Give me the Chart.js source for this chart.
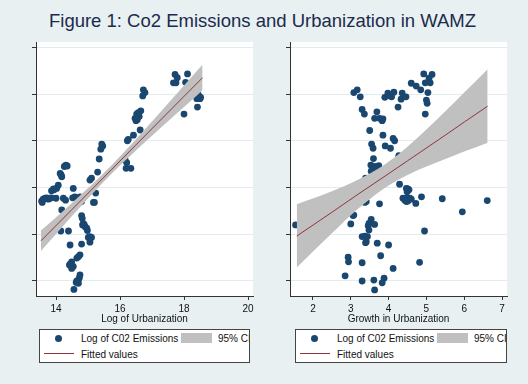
<!DOCTYPE html>
<html>
<head>
<meta charset="utf-8">
<script src="https://cdn.jsdelivr.net/npm/chart.js@4.4.0/dist/chart.umd.min.js"></script>
<style>
  body { margin:0; width:528px; height:384px; background:#e8f0f2; position:relative; overflow:hidden;
         font-family:"Liberation Sans", Arial, sans-serif; }
  #title { position:absolute; left:0; top:10px; width:525px; text-align:center; font-size:18.5px; line-height:22px; color:#1b2b4b; }
  canvas { position:absolute; top:0; }
  #cL { left:0; }
  #cR { left:270px; }
  .leg { position:absolute; top:329px; height:34px; box-sizing:border-box; border:1px solid #444; background:#fff; overflow:hidden;
         font-size:10px; line-height:12px; color:#111; z-index:2; }
  .leg span { position:absolute; white-space:nowrap; }
  .dot { width:7px; height:7px; border-radius:50%; background:#1a476f; left:15px; top:5px; }
  .sw { left:141px; top:3px; width:31px; height:10px; background:#c0c0c0; }
  .ln { left:4px; top:23px; width:30px; height:1px; background:#90353b; }
  .t1 { left:41px; top:3px; }
  .t2 { left:178px; top:3px; }
  .t3 { left:41px; top:19px; }
</style>
</head>
<body>
<div id="title">Figure 1: Co2 Emissions and Urbanization in WAMZ</div>
<canvas id="cL" width="270" height="384"></canvas>
<canvas id="cR" width="258" height="384"></canvas>
<div class="leg" style="left:39px;width:211px;">
  <span class="dot"></span><span class="t1">Log of C02 Emissions</span>
  <span class="sw"></span><span class="t2">95% CI</span>
  <span class="ln"></span><span class="t3">Fitted values</span>
</div>
<div class="leg" style="left:295px;width:212px;">
  <span class="dot"></span><span class="t1">Log of C02 Emissions</span>
  <span class="sw"></span><span class="t2">95% CI</span>
  <span class="ln"></span><span class="t3">Fitted values</span>
</div>
<script>
// left panel: log of urbanization vs log of CO2
var logUrb = [17.72,17.79,18.11,17.67,17.75,18.05,18.45,18.52,18.40,18.50,18.42,18.00,
  16.73,16.78,16.71,16.65,16.57,16.52,16.47,16.50,16.54,16.60,16.63,16.42,16.26,16.23,
  16.16,16.21,16.19,16.34,
  15.43,15.46,15.40,15.35,15.30,15.06,15.11,15.24,15.17,15.20,
  14.31,14.26,14.35,14.13,14.18,14.16,14.07,14.02,13.92,13.86,13.94,
  13.60,13.55,13.57,13.66,13.71,13.76,13.81,13.86,14.00,14.23,14.30,
  14.54,14.52,14.59,14.75,14.80,14.18,
  14.80,14.82,14.85,14.88,14.83,14.91,14.96,14.98,
  14.39,14.15,15.06,15.11,15.01,15.06,14.44,14.80,
  14.75,14.70,14.65,14.49,14.44,14.42,14.54,14.49,
  14.75,14.73,14.70,14.65,14.63,14.70,14.56];
var co2L = [10.42,10.35,10.43,10.24,10.24,10.25,9.98,9.93,9.90,9.90,9.72,9.57,
  10.09,10.03,9.96,9.64,9.60,9.57,9.48,9.43,9.45,9.52,9.23,9.12,9.03,9.00,
  8.59,8.53,8.41,8.41,
  8.93,8.89,8.82,8.61,8.33,8.16,8.20,7.88,7.68,7.68,
  8.48,8.45,8.46,8.30,8.23,8.27,8.05,7.98,7.97,7.93,7.95,
  7.75,7.71,7.68,7.77,7.78,7.75,7.77,7.78,7.77,7.77,7.73,
  7.98,7.78,7.80,7.80,7.70,7.52,
  7.40,7.34,7.23,7.21,7.20,7.16,7.13,7.08,
  7.07,7.07,6.95,6.93,6.93,6.83,6.77,6.79,
  6.56,6.52,6.49,6.41,6.36,6.34,6.31,6.27,
  6.13,6.07,6.02,6.00,5.97,5.95,5.82];

// right panel: growth in urbanization vs log of CO2
var urbGrowth = [4.93,5.15,5.07,4.97,5.10,4.60,4.73,4.85,5.04,5.00,5.02,4.97,
  3.90,3.98,4.04,4.08,4.14,4.25,4.33,4.36,4.46,
  3.08,3.17,3.25,3.30,3.36,
  3.69,3.63,3.76,3.83,3.85,3.50,3.85,3.91,4.05,4.12,4.16,3.55,3.59,3.60,4.27,
  3.53,3.63,3.74,3.75,3.54,3.65,3.39,
  4.29,4.47,4.51,4.54,4.49,4.38,4.43,4.47,4.56,4.51,4.47,4.60,4.72,4.87,5.42,6.61,5.95,4.95,4.82,
  3.37,3.41,3.76,
  3.06,3.08,3.54,3.48,3.46,3.63,3.48,3.00,1.54,
  3.30,3.37,3.44,3.41,3.39,3.70,4.00,3.79,2.93,2.94,3.30,4.12,2.85,3.30,3.61,3.88,3.83,3.63];
var co2R = [10.43,10.42,10.34,10.24,10.24,10.23,10.17,10.09,10.03,9.87,9.80,9.57,
  9.93,10.02,9.96,9.94,10.04,9.72,9.89,10.02,9.94,
  10.03,10.09,9.94,9.67,9.57,
  9.62,9.48,9.48,9.43,9.47,9.22,9.12,8.89,8.84,9.05,9.00,8.93,8.84,8.62,8.68,
  8.48,8.45,8.47,8.39,8.35,8.36,8.20,
  8.07,7.98,7.97,7.95,7.91,7.77,7.73,7.78,7.77,7.71,7.70,7.75,7.66,7.80,7.76,7.72,7.48,7.07,6.40,
  7.68,7.70,7.65,
  7.40,7.41,7.32,7.23,7.18,7.21,7.09,7.22,7.20,
  6.95,6.96,6.95,6.84,6.82,6.81,6.77,6.54,6.51,6.41,6.39,6.27,6.11,6.00,6.02,6.06,5.96,5.81];

// fitted line and 95% CI
var fitXL = [13.53, 14.5, 15.73, 17, 18, 18.58];
var fitYL = [6.86, 7.53, 8.38, 9.26, 9.95, 10.35];
var ciHiL = [7.08, 7.67, 8.47, 9.41, 10.18, 10.63];
var ciLoL = [6.64, 7.39, 8.29, 9.11, 9.72, 10.08];
var fitXR = [1.57, 2.5, 3.2, 3.88, 4.5, 5.5, 6, 6.62];
var fitYR = [6.96, 7.47, 7.86, 8.23, 8.57, 9.12, 9.40, 9.74];
var ciHiR = [7.64, 7.92, 8.17, 8.48, 8.87, 9.63, 10.03, 10.53];
var ciLoR = [6.29, 7.02, 7.55, 7.98, 8.27, 8.61, 8.77, 8.96];

var yTicks = [6, 7, 8, 9, 10, 11];
var xTicksL = [14, 16, 18, 20];
var xTicksR = [2, 3, 4, 5, 6, 7];

var FONT = '"Liberation Sans", Arial, sans-serif';

// white plot region
var plotBg = {
  id: 'plotBg',
  beforeDraw: function (c) {
    var a = c.chartArea;
    c.ctx.save();
    c.ctx.fillStyle = '#fff';
    c.ctx.fillRect(a.left, a.top, a.right - a.left, a.bottom - a.top);
    c.ctx.restore();
  }
};

function panel(id, xs, ys, fitX, fitY, hi, lo, xTicks, xMin, xMax, xTitle, pad) {
  var pts = xs.map(function (x, i) { return {x: x, y: ys[i]}; });
  var pair = function (a) { return fitX.map(function (x, i) { return {x: x, y: a[i]}; }); };
  new Chart(document.getElementById(id), {
    type: 'scatter',
    data: {
      datasets: [
        {type: 'line', label: 'Fitted values', data: pair(fitY), borderColor: '#90353b', borderWidth: 1,
         pointRadius: 0, fill: false, order: 0},
        {type: 'line', label: '95% CI', data: pair(hi), borderColor: 'rgba(0,0,0,0)', borderWidth: 1,
         pointRadius: 0, backgroundColor: '#c0c0c0', fill: '+1', order: 1, cubicInterpolationMode: 'monotone'},
        {type: 'line', label: 'ci low', data: pair(lo), borderColor: 'rgba(0,0,0,0)', borderWidth: 1,
         pointRadius: 0, fill: false, order: 1, cubicInterpolationMode: 'monotone'},
        {label: 'Log of C02 Emissions', data: pts, pointRadius: 3.4, pointBackgroundColor: '#1a476f',
         pointBorderWidth: 0, order: 3}
      ]
    },
    options: {
      responsive: false,
      animation: false,
      layout: {padding: pad},
      plugins: {legend: {display: false}, tooltip: {enabled: false}},
      scales: {
        x: {
          type: 'linear', min: xMin, max: xMax,
          afterBuildTicks: function (s) { s.ticks = xTicks.map(function (v) { return {value: v}; }); },
          afterFit: function (s) { s.height = 29.5; },
          grid: {drawOnChartArea: false, tickLength: 4, tickColor: '#333'},
          border: {color: '#333', width: 1},
          ticks: {color: '#111', font: {size: 10, family: FONT}, padding: 3, maxRotation: 0, autoSkip: false},
          title: {display: true, text: xTitle, color: '#111', font: {size: 10, family: FONT}, padding: 0}
        },
        y: {
          type: 'linear', min: 5.679, max: 11.113,
          afterBuildTicks: function (s) { s.ticks = yTicks.map(function (v) { return {value: v}; }); },
          afterFit: function (s) { s.width = 4; },
          grid: {color: '#e2ebee', tickLength: 4, tickColor: '#333'},
          border: {color: '#333', width: 1},
          ticks: {display: false}
        }
      }
    },
    plugins: [plotBg]
  });
}

panel('cL', logUrb, co2L, fitXL, fitYL, ciHiL, ciLoL, xTicksL, 13.375, 20.156, 'Log of Urbanization',
      {left: 32, top: 42, right: 17, bottom: 58.5});
panel('cR', urbGrowth, co2R, fitXR, fitYR, ciHiR, ciLoR, xTicksR, 1.392, 7.132, 'Growth in Urbanization',
      {left: 16, top: 42, right: 21, bottom: 58.5});
</script>
</body>
</html>
